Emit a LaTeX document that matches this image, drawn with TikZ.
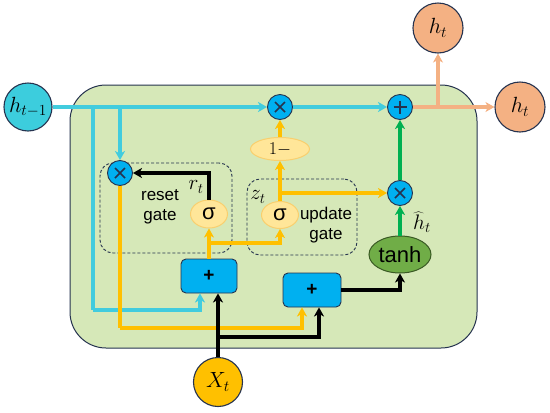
\RequirePackage{fix-cm}
\documentclass[tikz,border=0pt]{standalone}
\usepackage{fontspec}
\setmainfont{Liberation Sans}
\usetikzlibrary{shapes.geometric,arrows.meta,calc}
\definecolor{bggreen}{HTML}{D6E8B8}
\definecolor{navy}{HTML}{26334F}
\definecolor{cyanf}{HTML}{3CCDDD}
\definecolor{cyanl}{HTML}{42CCDE}
\definecolor{mblue}{HTML}{00B0F0}
\definecolor{orl}{HTML}{FFC000}
\definecolor{lightor}{HTML}{FFE699}
\definecolor{lightorb}{HTML}{F9CF6E}
\definecolor{salm}{HTML}{F4B183}
\definecolor{tanhf}{HTML}{70AD47}
\definecolor{tanhb}{HTML}{3A5A24}
\definecolor{grl}{HTML}{00B050}
\begin{document}
\begin{tikzpicture}[x=1pt,y=-1pt,
  arr/.style={-{Stealth[length=9pt,width=10pt,inset=2.5pt]}},
  cy/.style={draw=cyanl,line width=3.2pt,arr},
  cyn/.style={draw=cyanl,line width=3.2pt},
  orr/.style={draw=orl,line width=3.2pt,arr},
  orn/.style={draw=orl,line width=3.2pt},
  bk/.style={draw=black,line width=4pt,arr},
  gr/.style={draw=grl,line width=3.6pt,arr},
  sa/.style={draw=salm,line width=3.6pt,arr},
  opc/.style={circle,minimum size=25pt,inner sep=0pt,fill=mblue,draw=navy,line width=0.9pt},
  mult/.style={opc,path picture={
    \draw[line width=1.5pt] ([shift={(-5pt,-5pt)}]path picture bounding box.center) -- ([shift={(5pt,5pt)}]path picture bounding box.center);
    \draw[line width=1.5pt] ([shift={(-5pt,5pt)}]path picture bounding box.center) -- ([shift={(5pt,-5pt)}]path picture bounding box.center);}},
  plusc/.style={opc,path picture={
    \draw[line width=1.5pt] ([shift={(-6.5pt,0pt)}]path picture bounding box.center) -- ([shift={(6.5pt,0pt)}]path picture bounding box.center);
    \draw[line width=1.5pt] ([shift={(0pt,-6.5pt)}]path picture bounding box.center) -- ([shift={(0pt,6.5pt)}]path picture bounding box.center);}},
  bigc/.style={circle,inner sep=0pt,draw=navy,line width=1.1pt,font=\fontsize{22}{24}\selectfont},
  yell/.style={ellipse,inner sep=0pt,fill=lightor,draw=lightorb,line width=1pt},
  pbox/.style={rectangle,rounded corners=5pt,fill=mblue,draw=navy,line width=0.9pt,minimum height=34pt,inner sep=0pt,font=\fontsize{19}{20}\selectfont\bfseries},
  gatebox/.style={rectangle,rounded corners=13pt,draw=navy,line width=0.9pt,dash pattern=on 3pt off 2pt,inner sep=0pt},
  lbl/.style={inner sep=0pt,font=\fontsize{21}{22}\selectfont},
  gtxt/.style={inner sep=0pt,align=center,font=\fontsize{17}{20}\selectfont}
]
\useasboundingbox (0,0) rectangle (550,413);
% background
\node[rectangle,rounded corners=36pt,minimum width=407pt,minimum height=263pt,inner sep=0pt,fill=bggreen,draw=navy,line width=1pt] (bg) at (273.5,216.5) {};
\node[gatebox,minimum width=132pt,minimum height=90pt] (resetbox) at (166,208) {};
\node[gatebox,minimum width=110pt,minimum height=76pt] (updbox) at (302,217) {};
% nodes
\node[bigc,fill=cyanf,minimum size=48pt] (hprev) at (28,107) {$h_{t-1}$};
\node[bigc,fill=salm,minimum size=50pt] (htR) at (520,107) {$h_t$};
\node[bigc,fill=salm,minimum size=50pt] (htT) at (438,28) {$h_t$};
\node[bigc,fill=orl,minimum size=49pt] (xt) at (218,382) {$X_t$};
\node[mult] (m1) at (280,107) {};
\node[plusc] (pl) at (400,107) {};
\node[mult] (m2) at (120,173) {};
\node[mult] (m3) at (400,193) {};
\node[yell,minimum width=59pt,minimum height=23pt,font=\fontsize{18}{19}\selectfont] (one) at (280,149) {$1-$};
\node[yell,minimum width=37pt,minimum height=28pt,font=\fontsize{22}{22}\selectfont] (sigR) at (209,214) {σ};
\node[yell,minimum width=37pt,minimum height=27pt,font=\fontsize{22}{22}\selectfont] (sigU) at (280,215) {σ};
\node[ellipse,inner sep=0pt,minimum width=62pt,minimum height=37pt,fill=tanhf,draw=tanhb,line width=1pt,font=\fontsize{22}{24}\selectfont] (tanh) at (400,254.5) {tanh};
\node[pbox,minimum width=56pt] (pb1) at (209,276) {+};
\node[pbox,minimum width=58pt] (pb2) at (312,290) {+};
% labels
\node[lbl] (rt) at (196,187) {$r_t$};
\node[lbl] (zt) at (258,197) {$z_t$};
\node[lbl] (hh) at (422,222) {$\widehat{h}_t$};
\node[gtxt] (rtxt) at (160,207) {reset\\gate};
\node[gtxt] (utxt) at (326,225) {update\\gate};
% coordinates
\coordinate (c1) at (93,107);
\coordinate (c2) at (120,107);
\coordinate (c1b) at (93,310);
\coordinate (o1) at (120,328);
\coordinate (x1) at (218,337);
\coordinate (y1) at (209,243);
\coordinate (z1) at (280,193);
\coordinate (s1) at (438,107);
% cyan
\draw[cy] (hprev) -- (m1);
\draw[cyn] (c1) -- (c1b);
\draw[cy] (c1b) -| ([xshift=-9pt]pb1.south);
\draw[cy] (c2) -- (m2);
\draw[cy] (m1) -- (pl);
% orange
\draw[orn] (m2) -- (o1);
\draw[orr] (o1) -| ([xshift=-10pt]pb2.south);
\draw[orr] (pb1) -- (sigR);
\draw[orr] (y1) -| (sigU.south);
\draw[orr] (sigU) -- (one);
\draw[orr] (z1) -- (m3);
\draw[orr] (one) -- (m1);
% black
\draw[bk] (xt) -- ([xshift=9pt]pb1.south);
\draw[bk] (x1) -| ([xshift=7pt]pb2.south);
\draw[bk] (sigR.north) |- (m2);
\draw[bk] (pb2) -| (tanh.south);
% green
\draw[gr] (tanh) -- (m3);
\draw[gr] (m3) -- (pl);
% salmon
\draw[sa] (pl) -- (htR);
\draw[sa] (s1) -- (htT);
\end{tikzpicture}
\end{document}
